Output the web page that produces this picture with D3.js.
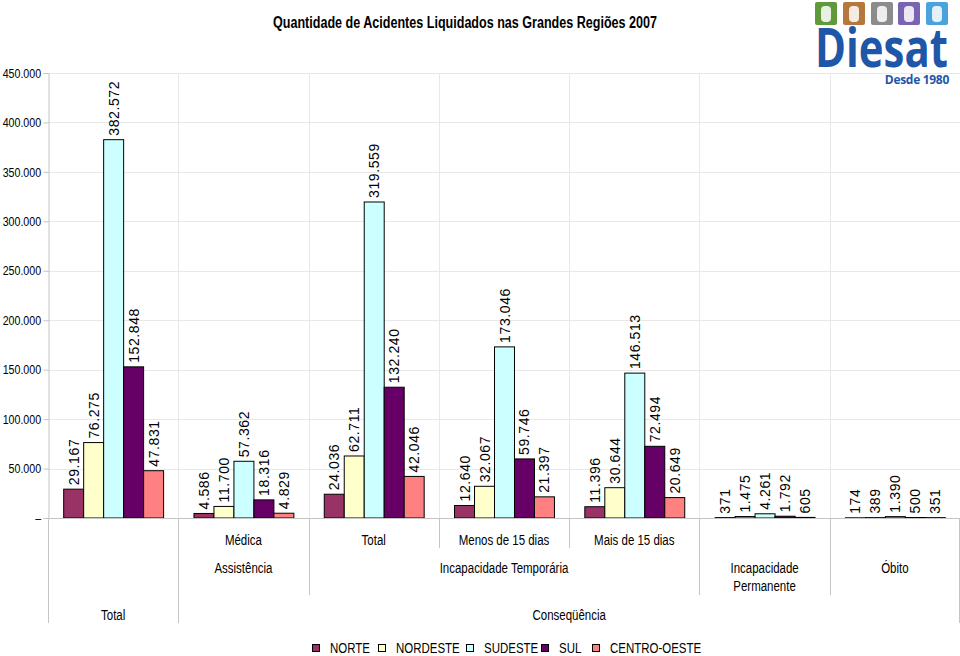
<!DOCTYPE html>
<html>
<head>
<meta charset="utf-8">
<script src="https://cdn.jsdelivr.net/npm/d3@7"></script>
<style>
  html, body { margin: 0; padding: 0; background: #fff; }
  svg { display: block; }
</style>
</head>
<body>
<svg id="chart" width="960" height="656"></svg>
<script>
// ---------- DATA ----------
const series = ["NORTE", "NORDESTE", "SUDESTE", "SUL", "CENTRO-OESTE"];
const seriesColors = ["#993366", "#FFFFCC", "#CCFFFF", "#660066", "#FF8080"];
const groupKeys = ["g1", "g2", "g3", "g4", "g5", "g6", "g7"];
const level1Labels = ["", "Médica", "Total", "Menos de 15 dias", "Mais de 15 dias", "", ""];
const norte    = [29167, 4586, 24036, 12640, 11396, 371, 174];
const nordeste = [76275, 11700, 62711, 32067, 30644, 1475, 389];
const sudeste  = [382572, 57362, 319559, 173046, 146513, 4261, 1390];
const sul      = [152848, 18316, 132240, 59746, 72494, 1792, 500];
const centro   = [47831, 4829, 42046, 21397, 20649, 605, 351];
const yTicks = [0, 50000, 100000, 150000, 200000, 250000, 300000, 350000, 400000, 450000];
// level 2 spans: [first group index, last group index, label lines]
const level2 = [
  { from: 1, to: 1, lines: ["Assistência"] },
  { from: 2, to: 4, lines: ["Incapacidade Temporária"] },
  { from: 5, to: 5, lines: ["Incapacidade", "Permanente"] },
  { from: 6, to: 6, lines: ["Óbito"] }
];
const level3 = [
  { from: 0, to: 0, lines: ["Total"] },
  { from: 1, to: 6, lines: ["Conseqüência"] }
];
const title = "Quantidade de Acidentes Liquidados nas Grandes Regiões 2007";

const values = [norte, nordeste, sudeste, sul, centro];

// ---------- LAYOUT ----------
const svg = d3.select("#chart");
const plot = { left: 48, right: 960, top: 73, bottom: 518 };

const x0 = d3.scaleBand().domain(groupKeys).range([plot.left, plot.right]).paddingInner(0).paddingOuter(0);
const x1 = d3.scaleBand().domain(series).range([0, x0.bandwidth()]).paddingInner(0).paddingOuter(0.76);
const y = d3.scaleLinear().domain([0, 450000]).range([plot.bottom, plot.top]);

const fmt = v => d3.format(",")(v).replace(/,/g, ".");
const sans = '"Liberation Sans", Arial, sans-serif';
const NARROW = 0.82;

// narrow text helper (emulates Arial Narrow by horizontal scaling)
function narrowText(sel, x, yy, txt, opts = {}) {
  return sel.append("text")
    .attr("transform", `translate(${x},${yy}) scale(${NARROW},1)`)
    .attr("text-anchor", opts.anchor || "middle")
    .attr("dominant-baseline", "central")
    .attr("font-family", sans)
    .attr("font-size", opts.size || 14)
    .attr("font-weight", opts.weight || "normal")
    .attr("fill", "#000")
    .text(txt);
}

// gridlines horizontal
svg.append("g").selectAll("line").data(yTicks.filter(t => t > 0)).join("line")
  .attr("x1", plot.left).attr("x2", plot.right)
  .attr("y1", d => Math.round(y(d)) + 0.5).attr("y2", d => Math.round(y(d)) + 0.5)
  .attr("stroke", "#e8e8e8").attr("stroke-width", 1);

// vertical gridlines at group boundaries (plot area)
const bounds = groupKeys.map(k => x0(k)).concat([plot.right]);
svg.append("g").selectAll("line").data(bounds.slice(1, -1)).join("line")
  .attr("x1", d => Math.round(d) + 0.5).attr("x2", d => Math.round(d) + 0.5)
  .attr("y1", plot.top).attr("y2", plot.bottom)
  .attr("stroke", "#e8e8e8").attr("stroke-width", 1);

// y axis
const yAxis = d3.axisLeft(y).tickValues(yTicks).tickSize(5).tickPadding(4)
  .tickFormat(d => d === 0 ? "–" : fmt(d));
const ya = svg.append("g").attr("transform", `translate(${plot.left + 0.5},0)`).call(yAxis);
ya.select(".domain").attr("stroke", "#c4c4c4");
ya.selectAll(".tick line").attr("stroke", "#c4c4c4");
ya.selectAll(".tick text")
  .attr("font-family", sans).attr("font-size", 13).attr("fill", "#000")
  .attr("transform", `scale(${NARROW},1)`);

// bars
const gGroups = svg.append("g").selectAll("g").data(groupKeys).join("g")
  .attr("transform", k => `translate(${x0(k)},0)`);

gGroups.each(function (k, gi) {
  const g = d3.select(this);
  const rows = series.map((s, si) => ({ s, si, v: values[si][gi] }));
  g.selectAll("rect").data(rows).join("rect")
    .attr("x", d => x1(d.s) + 0.5)
    .attr("y", d => y(d.v))
    .attr("width", x1.bandwidth())
    .attr("height", d => Math.max(0, y(0) - y(d.v)))
    .attr("fill", d => seriesColors[d.si])
    .attr("stroke", "#000").attr("stroke-width", 1);
  g.selectAll("text").data(rows).join("text")
    .attr("transform", d => `translate(${x1(d.s) + x1.bandwidth() / 2 + 0.5},${y(d.v) - 4}) rotate(-90)`)
    .attr("dominant-baseline", "central")
    .attr("text-anchor", "start")
    .attr("font-family", sans).attr("font-size", 14)
    .attr("letter-spacing", 0.6)
    .attr("fill", "#000")
    .text(d => fmt(d.v));
});

// category axis line
svg.append("line").attr("x1", plot.left).attr("x2", plot.right)
  .attr("y1", plot.bottom + 0.5).attr("y2", plot.bottom + 0.5)
  .attr("stroke", "#c4c4c4");

// multi-level category labels
const catG = svg.append("g");
const sepColor = "#c4c4c4";
const lvl1Bottom = 548, lvl2Bottom = 595, lvl3Bottom = 623;
const bx = i => Math.round(bounds[i]) + 0.5;

// level 1 labels
level1Labels.forEach((lab, i) => {
  if (!lab) return;
  narrowText(catG, x0(groupKeys[i]) + x0.bandwidth() / 2, 540, lab);
});
// level 1 separators (between adjacent level-1 labels in the same level-2 span)
for (let i = 1; i < groupKeys.length; i++) {
  if (level1Labels[i - 1] && level1Labels[i]) {
    const sameSpan = level2.some(s => s.from <= i - 1 && s.to >= i);
    if (sameSpan) {
      svg.append("line").attr("x1", bx(i)).attr("x2", bx(i)).attr("y1", plot.bottom).attr("y2", lvl1Bottom).attr("stroke", sepColor);
    }
  }
}
// level 2 labels
level2.forEach(s => {
  const cx = (bounds[s.from] + bounds[s.to + 1]) / 2;
  s.lines.forEach((ln, li) => narrowText(catG, cx, 568 + li * 18, ln));
});
const lvl2Edges = new Set();
level2.forEach(s => { lvl2Edges.add(s.from); lvl2Edges.add(s.to + 1); });
// level 3 labels
level3.forEach(s => {
  const cx = (bounds[s.from] + bounds[s.to + 1]) / 2;
  narrowText(catG, cx, 615, s.lines[0]);
});
const lvl3Edges = new Set();
level3.forEach(s => { lvl3Edges.add(s.from); lvl3Edges.add(s.to + 1); });
bounds.forEach((b, i) => {
  let bottom = null;
  if (lvl3Edges.has(i)) bottom = lvl3Bottom;
  else if (lvl2Edges.has(i)) bottom = lvl2Bottom;
  if (bottom !== null) {
    const xx = i === bounds.length - 1 ? plot.right - 0.5 : bx(i);
    svg.append("line").attr("x1", xx).attr("x2", xx).attr("y1", plot.bottom).attr("y2", bottom).attr("stroke", sepColor);
  }
});

// title
svg.append("text").attr("x", 273).attr("y", 22)
  .attr("text-anchor", "start").attr("dominant-baseline", "central")
  .attr("font-family", sans).attr("font-size", 16).attr("font-weight", "bold")
  .attr("textLength", 384).attr("lengthAdjust", "spacingAndGlyphs")
  .text(title);

// legend
const legendX = [312, 378, 466, 541, 592];
const legend = svg.append("g");
series.forEach((s, i) => {
  legend.append("rect").attr("x", legendX[i] + 0.5).attr("y", 644.5).attr("width", 7).attr("height", 7)
    .attr("fill", seriesColors[i]).attr("stroke", "#000");
  narrowText(legend, legendX[i] + 18, 648, s, { anchor: "start" });
});

// logo (Diesat)
const logo = svg.append("g");
const iconColors = ["#5f9a3a", "#b5783c", "#8c8c8c", "#7a63b0", "#4aa3dc"];
const iconX = [815, 843, 871, 898, 926];
iconColors.forEach((c, i) => {
  logo.append("rect").attr("x", iconX[i]).attr("y", 2).attr("width", 22).attr("height", 23).attr("rx", 2).attr("fill", c);
  logo.append("rect").attr("x", iconX[i] + 6).attr("y", 6).attr("width", 10).attr("height", 16).attr("rx", 4).attr("fill", "#fff").attr("opacity", 0.85);
});
logo.append("text").attr("transform", "translate(815,67) scale(1,1.22)").attr("text-anchor", "start")
  .attr("font-family", '"Open Sans", "Liberation Sans", sans-serif').attr("font-weight", "bold")
  .attr("font-size", 44).attr("textLength", 133).attr("lengthAdjust", "spacingAndGlyphs")
  .attr("fill", "#1f56a8").text("Diesat");
logo.append("text").attr("x", 949).attr("y", 84).attr("text-anchor", "end")
  .attr("font-family", '"Open Sans", "Liberation Sans", sans-serif').attr("font-weight", "bold")
  .attr("font-size", 12).attr("letter-spacing", -0.3).attr("fill", "#1f56a8").text("Desde 1980");
</script>
</body>
</html>
